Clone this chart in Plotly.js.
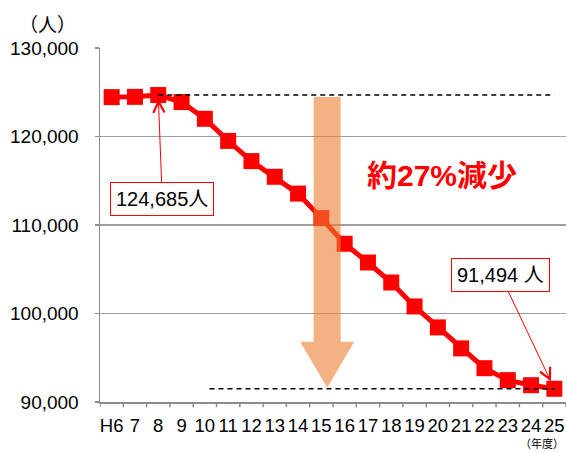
<!DOCTYPE html>
<html><head><meta charset="utf-8">
<script src="https://cdn.plot.ly/plotly-3.0.1.min.js"></script>
<style>html,body{margin:0;padding:0;background:#fff;}#chart{width:567px;height:452px;}</style>
</head><body><div id="chart"></div>
<script>
const years = ["H6","7","8","9","10","11","12","13","14","15","16","17","18","19","20","21","22","23","24","25"];
const population = [124450,124480,124685,123890,122000,119500,117220,115450,113550,110780,107880,105760,103500,100800,98430,96060,93820,92470,91900,91494];
const yTicks = [90000,100000,110000,120000,130000];
const startLabel = "124,685人";
const endLabel = "91,494 人";
const dropLabel = "約27%減少";
const font = "Liberation Sans, Arial, 'Noto Sans CJK JP', sans-serif";

const trace = {
  x: years.map((_, i) => i), y: population, type: "scatter", mode: "lines+markers",
  line: {color: "#FF0000", width: 5},
  marker: {symbol: "square", size: 16, color: "#FF0000"},
  hoverinfo: "skip"
};
const iStart = 2, iEnd = years.length - 1, iMid = 9.25;
const layout = {
  width: 567, height: 452,
  margin: {l: 100, r: 1, t: 48, b: 50},
  paper_bgcolor: "#fff", plot_bgcolor: "#fff",
  showlegend: false,
  font: {family: font, color: "#000"},
  xaxis: {
    type: "linear", range: [-0.5, years.length - 0.5],
    tickvals: years.map((_, i) => i), ticktext: years, tickangle: 0,
    showgrid: false, zeroline: false,
    showline: true, linecolor: "#8C8C8C", linewidth: 1.5,
    ticks: "outside", ticklen: 6, tickcolor: "rgba(0,0,0,0)",
    tickfont: {size: 18.5, family: font}
  },
  yaxis: {
    range: [90000, 130000], tickvals: yTicks, tickformat: ",",
    showgrid: true, gridcolor: "#A0A0A0", gridwidth: 1.5, zeroline: false,
    showline: true, linecolor: "#8C8C8C", linewidth: 1.5,
    ticks: "outside", ticklen: 4, tickcolor: "#8C8C8C", tickwidth: 1.5,
    ticklabelstandoff: 12,
    tickfont: {size: 19, family: font}
  },
  shapes: [
    ...Array.from({length: years.length + 1}, (_, k) => ({
      type: "line", xref: "x", yref: "paper", x0: k - 0.5, x1: k - 0.5, y0: 0, y1: -0.015,
      line: {color: "#8C8C8C", width: 1.5}
    })),
    {type: "line", xref: "x", yref: "y", x0: iStart, x1: iEnd, y0: population[iStart], y1: population[iStart],
     line: {color: "#000", width: 1.5, dash: "5px,4px"}, layer: "above"},
    {type: "line", xref: "x", yref: "y", x0: 4.2, x1: iEnd, y0: population[iEnd], y1: population[iEnd],
     line: {color: "#000", width: 1.5, dash: "5px,4px"}, layer: "above"},
    {type: "path", xref: "x", yref: "y", layer: "above", opacity: 0.6,
     fillcolor: "rgb(237,125,49)", line: {width: 0},
     path: `M ${iMid-0.58},124450 L ${iMid+0.58},124450 L ${iMid+0.58},96800 L ${iMid+1.16},96800 L ${iMid},91600 L ${iMid-1.16},96800 L ${iMid-0.58},96800 Z`}
  ],
  annotations: [
    {x: iStart, y: population[iStart], xref: "x", yref: "y", text: startLabel, showarrow: true,
     ax: 4, ay: 104, arrowhead: 5, arrowsize: 2.2, arrowwidth: 1, arrowcolor: "#FF0000", standoff: 4,
     bordercolor: "#FF0000", borderwidth: 1, borderpad: 5, bgcolor: "#fff",
     font: {size: 20, family: font, color: "#000"}},
    {x: iEnd, y: population[iEnd], xref: "x", yref: "y", text: endLabel, showarrow: true,
     ax: -54, ay: -114, arrowhead: 5, arrowsize: 2.2, arrowwidth: 1, arrowcolor: "#FF0000", standoff: 8,
     bordercolor: "#FF0000", borderwidth: 1, borderpad: 5, bgcolor: "#fff",
     font: {size: 20, family: font, color: "#000"}},
    {x: (442-100)/466, y: (402-175)/354, xref: "paper", yref: "paper", xanchor: "center", yanchor: "middle",
     text: "<b>" + dropLabel + "</b>", showarrow: false,
     font: {size: 30, family: font, color: "#FF0000"}},
    {x: (47-100)/466, y: (402-24)/354, xref: "paper", yref: "paper", xanchor: "center", yanchor: "middle",
     text: "（人）", showarrow: false,
     font: {size: 19, family: "'Noto Sans CJK JP', sans-serif", color: "#000"}},
    {x: (542-100)/466, y: (402-452)/354, xref: "paper", yref: "paper", xanchor: "center", yanchor: "bottom",
     text: "（年度）", showarrow: false, borderpad: 0,
     font: {size: 11, family: "'Noto Sans CJK JP', sans-serif", color: "#000"}}
  ]
};
Plotly.newPlot("chart", [trace], layout, {staticPlot: true, displayModeBar: false});
</script></body></html>
